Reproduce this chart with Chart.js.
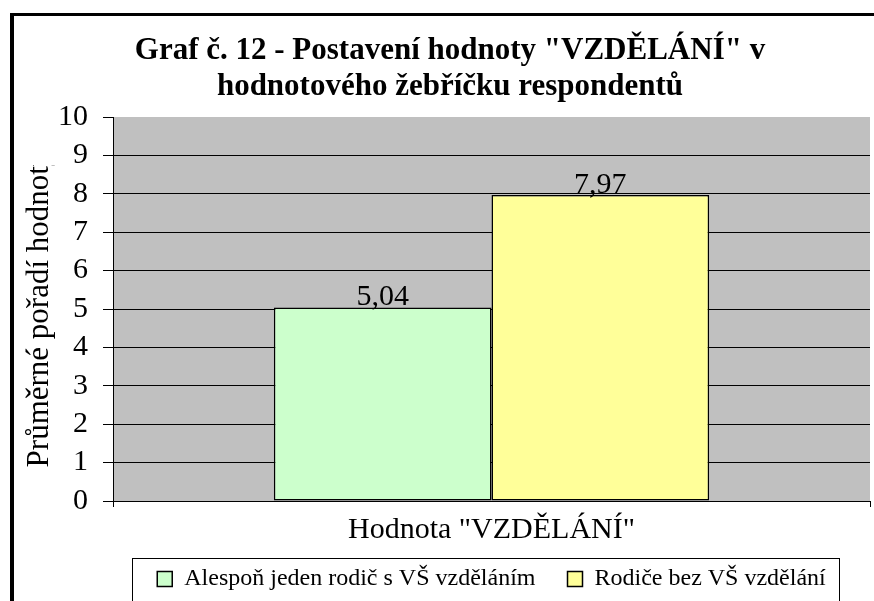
<!DOCTYPE html>
<html><head><meta charset="utf-8">
<script src="https://cdn.jsdelivr.net/npm/chart.js@4"></script>
<style>html,body{margin:0;padding:0;background:#fff;} canvas{display:block;}</style>
</head><body>
<canvas id="c" width="874" height="601"></canvas>
<script>
const categories = ['Hodnota "VZDĚLÁNÍ"'];
const seriesNames = ['Alespoň jeden rodič s VŠ vzděláním', 'Rodiče bez VŠ vzdělání'];
const seriesA = [5.04];
const seriesB = [7.97];
const seriesColors = ['#CCFFCC', '#FFFF99'];
const titleLines = ['Graf č. 12 - Postavení hodnoty "VZDĚLÁNÍ" v', 'hodnotového žebříčku respondentů'];
const yAxisTitle = 'Průměrné pořadí hodnoty';
const yMin = 0, yMax = 10, yStep = 1;

const SERIF = '"Liberation Serif", "Times New Roman", serif';

const framePlugin = {
  id: 'frame',
  beforeDraw(chart) {
    const {ctx, chartArea: a} = chart;
    ctx.save();
    ctx.fillStyle = '#fff';
    ctx.fillRect(0, 0, chart.width, chart.height);
    ctx.fillStyle = '#C0C0C0';
    ctx.fillRect(a.left, a.top, a.right - a.left, a.bottom - a.top);
    ctx.restore();
  },
  afterDraw(chart) {
    const {ctx, chartArea: a} = chart;
    ctx.save();
    // the y title is clipped at its top in the original
    ctx.fillStyle = '#fff';
    ctx.fillRect(15, a.top - 30, 42, 78);
    // outer frame
    ctx.fillStyle = '#000';
    ctx.fillRect(10, 13, 4, chart.height - 13);
    ctx.fillRect(10, 13, chart.width - 10, 3);
    // legend frame
    const hb = chart.legend.legendHitBoxes;
    if (hb && hb.length) {
      const first = hb[0], last = hb[hb.length - 1];
      const l = first.left - 25, r = last.left + last.width + 13;
      const t = first.top - 9;
      ctx.strokeStyle = '#000';
      ctx.lineWidth = 1;
      ctx.strokeRect(Math.round(l) + 0.5, Math.round(t) + 0.5, Math.round(r - l), chart.height + 10 - t);
    }
    ctx.restore();
  }
};

const valueLabels = {
  id: 'valueLabels',
  afterDatasetsDraw(chart) {
    const {ctx} = chart;
    ctx.save();
    ctx.font = '30px ' + SERIF;
    ctx.fillStyle = '#000';
    ctx.textAlign = 'center';
    ctx.textBaseline = 'alphabetic';
    chart.data.datasets.forEach((ds, i) => {
      const meta = chart.getDatasetMeta(i);
      meta.data.forEach((el, j) => {
        const v = ds.data[j];
        ctx.fillText(v.toFixed(2).replace('.', ','), el.x, el.y - 2);
      });
    });
    ctx.restore();
  }
};

new Chart(document.getElementById('c'), {
  type: 'bar',
  data: {
    labels: categories,
    datasets: [
      {label: seriesNames[0], data: seriesA, backgroundColor: seriesColors[0], borderColor: '#000', borderWidth: 1.5, borderSkipped: false},
      {label: seriesNames[1], data: seriesB, backgroundColor: seriesColors[1], borderColor: '#000', borderWidth: 1.5, borderSkipped: false}
    ]
  },
  options: {
    responsive: false,
    animation: false,
    devicePixelRatio: 1,
    barPercentage: 1,
    categoryPercentage: 0.575,
    layout: {padding: {top: 33, left: 30, right: 4, bottom: 0}},
    plugins: {
      tooltip: {enabled: false},
      title: {
        display: true,
        text: titleLines,
        color: '#000',
        font: {family: SERIF, size: 31, weight: 'bold', lineHeight: 36 / 31},
        padding: {top: 0, bottom: 12}
      },
      legend: {
        position: 'bottom',
        fullSize: false,
        labels: {
          color: '#000',
          font: {family: SERIF, size: 24},
          boxWidth: 15,
          boxHeight: 15,
          padding: 14,
          generateLabels(chart) {
            const items = Chart.defaults.plugins.legend.labels.generateLabels(chart);
            if (items.length) items[0].text = items[0].text + '   ';
            return items;
          }
        }
      }
    },
    scales: {
      x: {
        offset: true,
        ticks: {color: '#000', font: {family: SERIF, size: 30}, padding: 5},
        grid: {display: true, drawOnChartArea: false, tickColor: '#000', tickLength: 6, offset: true},
        border: {color: '#000', width: 1}
      },
      y: {
        min: yMin, max: yMax,
        ticks: {stepSize: yStep, autoSkip: false, color: '#000', font: {family: SERIF, size: 30, lineHeight: 1}, padding: 15},
        grid: {
          color: (c) => (c.tick && c.tick.value === yMax) ? 'rgba(0,0,0,0)' : '#000',
          tickColor: '#000', tickLength: 10, lineWidth: 1
        },
        border: {color: '#000', width: 1},
        title: {display: true, text: yAxisTitle, color: '#000', font: {family: SERIF, size: 31}, padding: {top: -8.6, bottom: -15.6}}
      }
    }
  },
  plugins: [framePlugin, valueLabels]
});
</script>
</body></html>
